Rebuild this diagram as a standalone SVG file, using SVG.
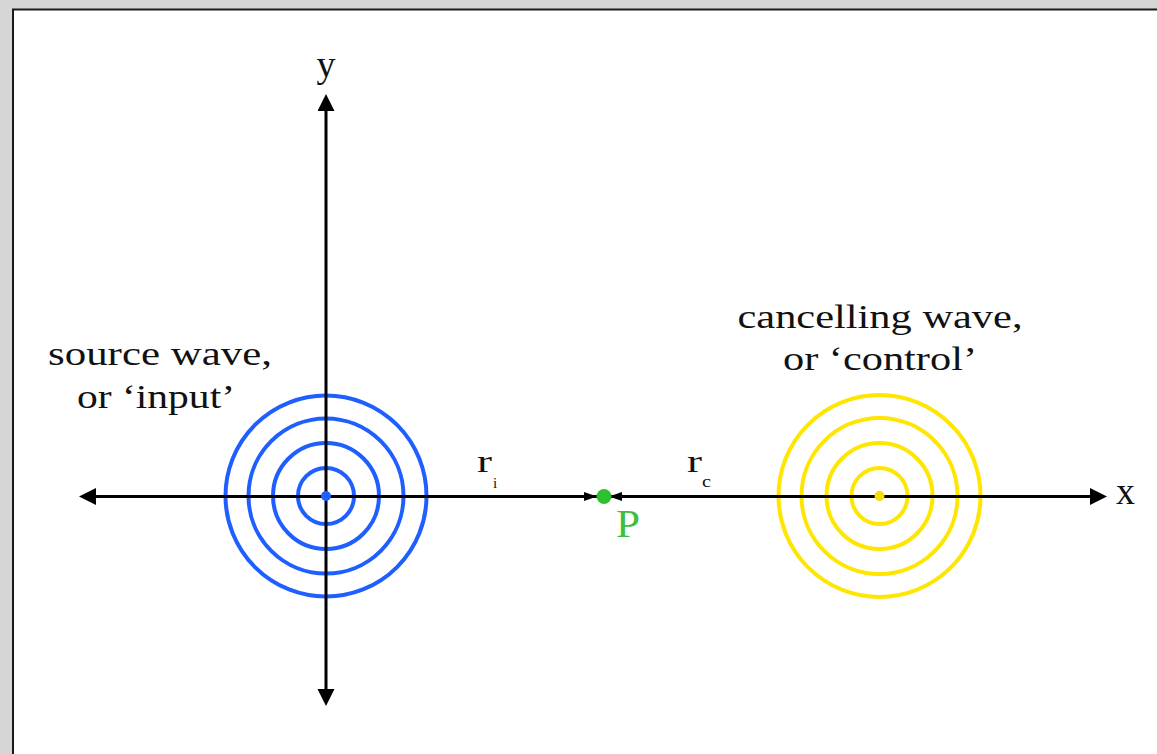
<svg xmlns="http://www.w3.org/2000/svg" width="1157" height="754" viewBox="0 0 1157 754">
<style>
.lbl{font-family:"Liberation Serif","Times New Roman",serif;fill:#111}
.axis{stroke:#000;stroke-width:3;fill:none}
.blue{stroke:#1f5eff;stroke-width:4;fill:none}
.yel{stroke:#ffe600;stroke-width:4;fill:none}
</style>
<defs>
<marker id="big" markerUnits="userSpaceOnUse" markerWidth="18" markerHeight="18" viewBox="0 0 18 18" refX="1" refY="8.5" orient="auto-start-reverse">
<path d="M0,0 L17,8.5 L0,17 z" fill="#000"/>
</marker>
<marker id="small" markerUnits="userSpaceOnUse" markerWidth="14" markerHeight="10" viewBox="0 0 14 10" refX="1" refY="4.5" orient="auto">
<path d="M0,0 L13,4.5 L0,9 z" fill="#000"/>
</marker>
</defs>
<rect x="0" y="0" width="1157" height="754" fill="#d6d6d6"/>
<rect x="13" y="9.5" width="1160" height="770" fill="#fff" stroke="#1a1a1a" stroke-width="2"/>

<g id="source">
<circle class="blue" cx="326" cy="496" r="28"/>
<circle class="blue" cx="326" cy="496" r="53"/>
<circle class="blue" cx="326" cy="496" r="77.5"/>
<circle class="blue" cx="326" cy="496" r="100.5"/>
</g>
<g id="control">
<circle class="yel" cx="879.5" cy="496" r="28"/>
<circle class="yel" cx="879.5" cy="496" r="53"/>
<circle class="yel" cx="879.5" cy="496" r="78"/>
<circle class="yel" cx="879.5" cy="496" r="101"/>
</g>

<g id="connectors">
<line class="axis" x1="95" y1="496.5" x2="1091" y2="496.5" marker-start="url(#big)" marker-end="url(#big)"/>
<line class="axis" x1="326" y1="690" x2="326" y2="110" marker-start="url(#big)" marker-end="url(#big)"/>
<line class="axis" x1="326" y1="496.5" x2="585" y2="496.5" marker-end="url(#small)"/>
<line class="axis" x1="879" y1="496.5" x2="621" y2="496.5" marker-end="url(#small)"/>
</g>

<g id="source-center"><circle cx="326" cy="496" r="5" fill="#1f5eff"/></g>
<g id="control-center"><circle cx="879.5" cy="496" r="5" fill="#f7dc00"/></g>
<g id="point-P"><circle cx="604" cy="496.5" r="7.5" fill="#2fc02f"/>
<text class="lbl" x="616" y="537" font-size="41" style="fill:#3cc03c" textLength="24" lengthAdjust="spacingAndGlyphs">P</text></g>

<g id="axis-labels">
<text class="lbl" x="326" y="77" font-size="38" text-anchor="middle">y</text>
<text class="lbl" x="1116" y="504" font-size="38" textLength="19" lengthAdjust="spacingAndGlyphs">x</text>
</g>

<g id="ri-label">
<text class="lbl" x="477" y="472" font-size="32" textLength="15" lengthAdjust="spacingAndGlyphs">r</text>
<text class="lbl" x="493" y="488" font-size="15">i</text>
</g>
<g id="rc-label">
<text class="lbl" x="687" y="472" font-size="32" textLength="15" lengthAdjust="spacingAndGlyphs">r</text>
<text class="lbl" x="702" y="487" font-size="17" textLength="9" lengthAdjust="spacingAndGlyphs">c</text>
</g>

<g id="source-label">
<text class="lbl" x="160" y="365" font-size="34" text-anchor="middle" textLength="224" lengthAdjust="spacingAndGlyphs">source wave,</text>
<text class="lbl" x="156" y="408" font-size="34" text-anchor="middle" textLength="158" lengthAdjust="spacingAndGlyphs">or ‘input’</text>
</g>
<g id="control-label">
<text class="lbl" x="880" y="328" font-size="34" text-anchor="middle" textLength="285" lengthAdjust="spacingAndGlyphs">cancelling wave,</text>
<text class="lbl" x="880" y="370" font-size="34" text-anchor="middle" textLength="194" lengthAdjust="spacingAndGlyphs">or ‘control’</text>
</g>
</svg>
